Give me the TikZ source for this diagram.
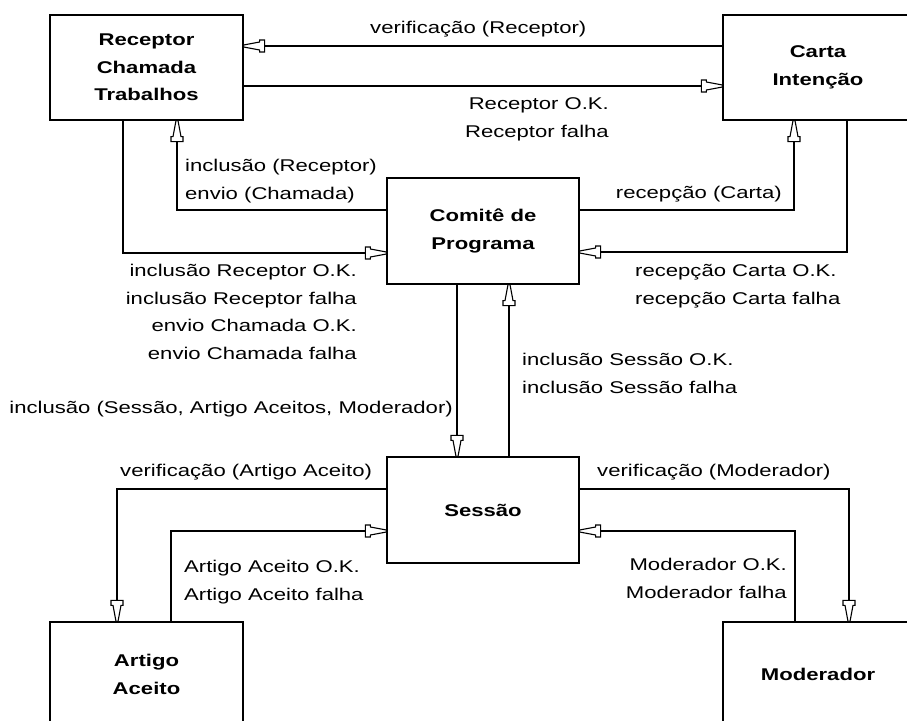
\documentclass[tikz,border=0pt]{standalone}
\usepackage{fontspec}
\setmainfont[FakeStretch=1.3]{Liberation Sans}
\usetikzlibrary{arrows.meta}

% open "plug" arrow head: narrow tip, tapered body, square back cap
\pgfdeclarearrow{
  name = Plug,
  setup code = {
    \pgfarrowssettipend{0pt}
    \pgfarrowssetlineend{-20pt}
    \pgfarrowssetvisualbackend{-21pt}
    \pgfarrowssetbackend{-21pt}
    \pgfarrowsupperhullpoint{-21pt}{6pt}
    \pgfarrowsupperhullpoint{0pt}{1pt}
  },
  drawing code = {
    \pgfsetdash{}{0pt}
    \pgfsetmiterjoin
    \pgfpathmoveto{\pgfqpoint{0pt}{1pt}}
    \pgfpathlineto{\pgfqpoint{-16pt}{4pt}}
    \pgfpathlineto{\pgfqpoint{-16pt}{6pt}}
    \pgfpathlineto{\pgfqpoint{-21pt}{6pt}}
    \pgfpathlineto{\pgfqpoint{-21pt}{-6pt}}
    \pgfpathlineto{\pgfqpoint{-16pt}{-6pt}}
    \pgfpathlineto{\pgfqpoint{-16pt}{-4pt}}
    \pgfpathlineto{\pgfqpoint{0pt}{-1pt}}
    \pgfpathclose
    \pgfsetfillcolor{white}
    \pgfusepathqfillstroke
  }
}

\tikzset{
  entity/.style={draw, line width=1.2pt, rectangle, inner sep=0pt,
    align=center, font=\fontsize{17}{27.5}\selectfont\bfseries},
  flow/.style={line width=1.1pt, -{Plug}},
  lbl/.style={inner sep=0pt, font=\fontsize{17}{27.5}\selectfont},
}

\begin{document}
\begin{tikzpicture}[x=1pt,y=-1pt]
  \useasboundingbox (0,0) rectangle (907,720);
  \begin{scope}
  \clip (0,0) rectangle (907,720);

  % entities
  \node[entity, minimum width=193pt, minimum height=105pt] (recep) at (146.5,67.5)
    {Receptor\\Chamada\\Trabalhos};
  \node[entity, minimum width=190pt, minimum height=105pt] (carta) at (818,67.5)
    {Carta\\Intenção};
  \node[entity, minimum width=192pt, minimum height=106pt] (comite) at (483,231)
    {Comitê de\\Programa};
  \node[entity, minimum width=192pt, minimum height=106pt] (sessao) at (483,510)
    {Sessão};
  \node[entity, minimum width=193pt, minimum height=105pt] (artigo) at (146.5,674.5)
    {Artigo\\Aceito};
  \node[entity, minimum width=190pt, minimum height=105pt] (moder) at (818,674.5)
    {Moderador};

  % flows between Receptor and Carta
  \draw[flow] (carta.west |- 0,46) -- (recep.east |- 0,46);
  \draw[flow] (recep.east |- 0,86) -- (carta.west |- 0,86);

  % flows between Comite and Receptor
  \draw[flow] (comite.west |- 0,210) -| (recep.south -| 177,0);
  \draw[flow] (recep.south -| 123,0) |- (comite.west |- 0,253);

  % flows between Comite and Carta
  \draw[flow] (comite.east |- 0,210) -| (carta.south -| 794,0);
  \draw[flow] (carta.south -| 847,0) |- (comite.east |- 0,252);

  % flows between Comite and Sessao
  \draw[flow] (comite.south -| 457,0) -- (sessao.north -| 457,0);
  \draw[flow] (sessao.north -| 509,0) -- (comite.south -| 509,0);

  % flows between Sessao and Artigo
  \draw[flow] (sessao.west |- 0,489) -| (artigo.north -| 117,0);
  \draw[flow] (artigo.north -| 171,0) |- (sessao.west |- 0,531);

  % flows between Sessao and Moderador
  \draw[flow] (sessao.east |- 0,489) -| (moder.north -| 849,0);
  \draw[flow] (moder.north -| 795,0) |- (sessao.east |- 0,531);
  \end{scope}

  % labels (multi-line labels are placed by the baseline of their last line)
  \node[lbl, anchor=base west] (l1) at (370,33) {verificação (Receptor)};
  \node[lbl, anchor=base east, align=right] (l2) at (609,137)
    {Receptor O.K.\\Receptor falha};
  \node[lbl, anchor=base west, align=left] (l3) at (185,199)
    {inclusão (Receptor)\\envio (Chamada)};
  \node[lbl, anchor=base east] (l4) at (782,198) {recepção (Carta)};
  \node[lbl, anchor=base east, align=right] (l5) at (357,359)
    {inclusão Receptor O.K.\\inclusão Receptor falha\\envio Chamada O.K.\\envio Chamada falha};
  \node[lbl, anchor=base west, align=left] (l6) at (635,304)
    {recepção Carta O.K.\\recepção Carta falha};
  \node[lbl, anchor=base west, align=left] (l7) at (522,393)
    {inclusão Sessão O.K.\\inclusão Sessão falha};
  \node[lbl, anchor=base east] (l8) at (453,413)
    {inclusão (Sessão, Artigo Aceitos, Moderador)};
  \node[lbl, anchor=base west] (l9) at (120,476) {verificação (Artigo Aceito)};
  \node[lbl, anchor=base west, align=left] (l10) at (184,600)
    {Artigo Aceito O.K.\\Artigo Aceito falha};
  \node[lbl, anchor=base west] (l11) at (597,476) {verificação (Moderador)};
  \node[lbl, anchor=base east, align=right] (l12) at (787,598)
    {Moderador O.K.\\Moderador falha};
\end{tikzpicture}
\end{document}
